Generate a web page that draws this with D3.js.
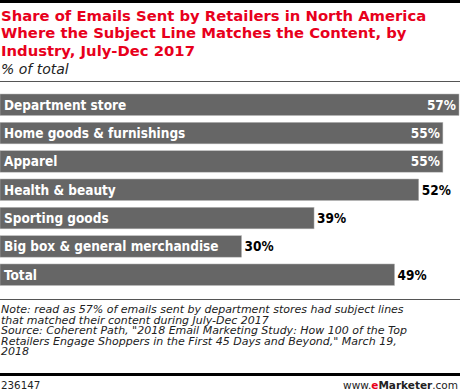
<!DOCTYPE html>
<html>
<head>
<meta charset="utf-8">
<script src="https://cdn.jsdelivr.net/npm/d3@7"></script>
<style>
  body { margin: 0; background: #fff; }
  svg { display: block; font-family: "DejaVu Sans", sans-serif; }
</style>
</head>
<body>
<svg id="chart" width="460" height="392"></svg>
<script>
// ===========
// DATA
// ===========
const categories = ["Department store", "Home goods & furnishings", "Apparel", "Health & beauty",
                    "Sporting goods", "Big box & general merchandise", "Total"];
const values = [57, 55, 55, 52, 39, 30, 49];

const titleLines = ["Share of Emails Sent by Retailers in North America",
                    "Where the Subject Line Matches the Content, by",
                    "Industry, July-Dec 2017"];
const subtitle = "% of total";
const noteLines = ["Note: read as 57% of emails sent by department stores had subject lines",
                   "that matched their content during July-Dec 2017",
                   "Source: Coherent Path, \"2018 Email Marketing Study: How 100 of the Top",
                   "Retailers Engage Shoppers in the First 45 Days and Beyond,\" March 19,",
                   "2018"];
const chartId = "236147";

const width = 460, height = 392;
const svg = d3.select("#chart");
const condensed = "DejaVu Sans Condensed, DejaVu Sans, sans-serif";

// ============
// HEADER
// ============
svg.append("rect").attr("x", 0).attr("y", 0).attr("width", width).attr("height", 3).attr("fill", "#000");

svg.append("g").selectAll("text")
  .data(titleLines)
  .enter().append("text")
    .attr("x", 1)
    .attr("y", (d, i) => 21 + i * 17.4)
    .attr("fill", "#e8001c")
    .attr("font-weight", "bold")
    .attr("font-size", "14.8px")
    .text(d => d);

svg.append("text")
  .attr("x", 1).attr("y", 74)
  .attr("font-style", "italic")
  .attr("font-size", "14px")
  .attr("fill", "#222")
  .text(subtitle);

svg.append("line").attr("x1", 0).attr("x2", width).attr("y1", 81.5).attr("y2", 81.5)
  .attr("stroke", "#555").attr("stroke-width", 1);

// ============
// BARS
// ============
const x = d3.scaleLinear().domain([0, 57]).range([0, 459]);
const y = d3.scaleBand().domain(categories).range([94, 285.5]).paddingInner(0.24).paddingOuter(0);

const rows = svg.append("g").selectAll("g")
  .data(categories.map((c, i) => ({ cat: c, val: values[i] })))
  .enter().append("g");

rows.append("rect")
  .attr("x", 0)
  .attr("y", d => y(d.cat))
  .attr("width", d => x(d.val))
  .attr("height", y.bandwidth())
  .attr("fill", "#666")
  .attr("stroke", "#bbb")
  .attr("stroke-width", 0.5);

rows.append("text")
  .attr("x", 4)
  .attr("y", d => y(d.cat) + y.bandwidth() / 2)
  .attr("dy", "0.36em")
  .attr("fill", "#fff")
  .attr("font-family", condensed)
  .attr("font-weight", "bold")
  .attr("font-size", "13.5px")
  .text(d => d.cat);

// value labels: inside when they would not fit outside
const inside = d => x(d.val) > 420;
rows.append("text")
  .attr("x", d => x(d.val) + (inside(d) ? -3 : 3))
  .attr("y", d => y(d.cat) + y.bandwidth() / 2)
  .attr("dy", "0.36em")
  .attr("text-anchor", d => inside(d) ? "end" : "start")
  .attr("fill", d => inside(d) ? "#fff" : "#000")
  .attr("font-family", condensed)
  .attr("font-weight", "bold")
  .attr("font-size", "13.5px")
  .text(d => d.val + "%");

// ============
// FOOTER
// ============
svg.append("line").attr("x1", 0).attr("x2", width).attr("y1", 299.5).attr("y2", 299.5)
  .attr("stroke", "#555").attr("stroke-width", 1);

svg.append("g").selectAll("text")
  .data(noteLines)
  .enter().append("text")
    .attr("x", 1)
    .attr("y", (d, i) => 313 + i * 10.6)
    .attr("font-style", "italic")
    .attr("font-size", "11px")
    .attr("fill", "#222")
    .text(d => d);

svg.append("rect").attr("x", 0).attr("y", 373).attr("width", width).attr("height", 3).attr("fill", "#000");

svg.append("text")
  .attr("x", 1).attr("y", 389)
  .attr("font-size", "10.3px")
  .attr("fill", "#222")
  .text(chartId);

const brand = svg.append("text")
  .attr("x", width - 2).attr("y", 389)
  .attr("text-anchor", "end")
  .attr("font-size", "10.5px")
  .attr("fill", "#222");
brand.append("tspan").text("www.");
brand.append("tspan").attr("fill", "#e8001c").attr("font-weight", "bold").text("e");
brand.append("tspan").attr("font-weight", "bold").text("Marketer");
brand.append("tspan").text(".com");
</script>
</body>
</html>
